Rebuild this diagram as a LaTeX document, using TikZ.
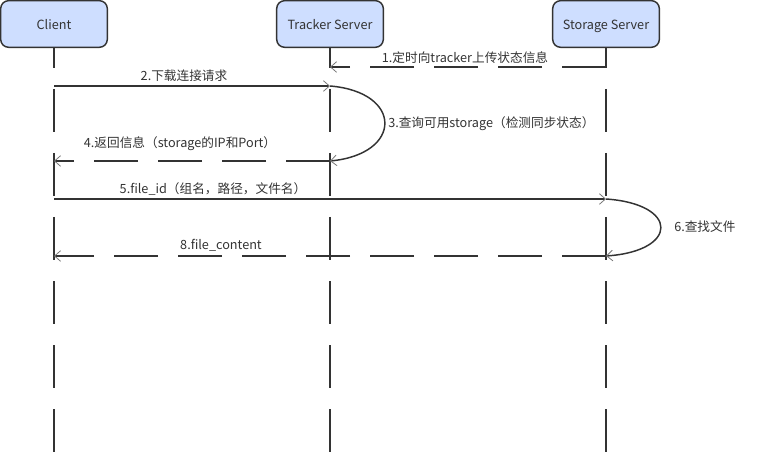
\documentclass[tikz,border=0pt]{standalone}
\usepackage{fontspec}
\setmainfont{Noto Sans CJK SC}
\usetikzlibrary{arrows.meta}
\definecolor{boxfill}{RGB}{206,222,255}
\definecolor{ink}{RGB}{51,51,51}
\definecolor{tipc}{RGB}{120,120,120}
\tikzset{
  actor/.style={draw=ink, fill=boxfill, line width=1.1pt, rounded corners=6pt,
    minimum width=80pt, minimum height=35pt, inner sep=0pt, text=ink,
    text height=8.5pt, text depth=0pt,
    font=\fontsize{9.5pt}{11pt}\selectfont},
  lifeline/.style={draw=ink, line width=1.1pt, dash pattern=on 32.25pt off 15.75pt},
  msg/.style={draw=ink, line width=1.1pt,
    -{Straight Barb[length=4.5pt,width=8pt,line width=0.6pt,color=tipc]}},
  ret/.style={msg, dash pattern=on 33pt off 15pt},
  lbl/.style={text=ink, inner sep=0pt, font=\fontsize{9.5pt}{11pt}\selectfont}
}
\begin{document}
\begin{tikzpicture}[x=0.75pt,y=-0.75pt]
\useasboundingbox (0,0) rectangle (767,452);
% lifeline anchors
\coordinate (cl) at (54,25);
\coordinate (tr) at (330,25);
\coordinate (st) at (606,25);
\coordinate (clend) at (54,452);
\coordinate (trend) at (330,452);
\coordinate (stend) at (606,452);
\draw[lifeline] (cl) -- (clend);
\draw[lifeline] (tr) -- (trend);
\draw[lifeline] (st) -- (stend);
% actors
\node[actor] (client) at (54,24) {Client};
\node[actor] (tracker) at (330,24) {Tracker Server};
\node[actor] (storage) at (606,24) {Storage Server};
% message points
\coordinate (s1) at (606,67);  \coordinate (t1) at (330,67);
\coordinate (c2) at (54,86);   \coordinate (t2) at (330,86);
\coordinate (t4) at (330,161); \coordinate (c4) at (54,161);
\coordinate (c5) at (54,199);  \coordinate (s5) at (606,199);
\coordinate (s8) at (606,256); \coordinate (c8) at (54,256);
% messages
\draw[ret] (s1) -- (t1);
\node[lbl] (l1) at (465,58) {1.定时向tracker上传状态信息};
\draw[msg] (c2) -- (t2);
\node[lbl] (l2) at (184,76) {2.下载连接请求};
\draw[msg] (t2) .. controls (403,92) and (403,154) .. (t4);
\node[lbl, anchor=west] (l3) at (388,124) {3.查询可用storage（检测同步状态）};
\draw[ret] (t4) -- (c4);
\node[lbl] (l4) at (180,144) {4.返回信息（storage的IP和Port）};
\draw[msg] (c5) -- (s5);
\node[lbl] (l5) at (213,189) {5.file\_id（组名，路径，文件名）};
\draw[msg] (s5) .. controls (679,204) and (679,251) .. (s8);
\node[lbl, anchor=west] (l6) at (674,227) {6.查找文件};
\draw[ret] (s8) -- (c8);
\node[lbl] (l8) at (221,245) {8.file\_content};
\end{tikzpicture}
\end{document}
